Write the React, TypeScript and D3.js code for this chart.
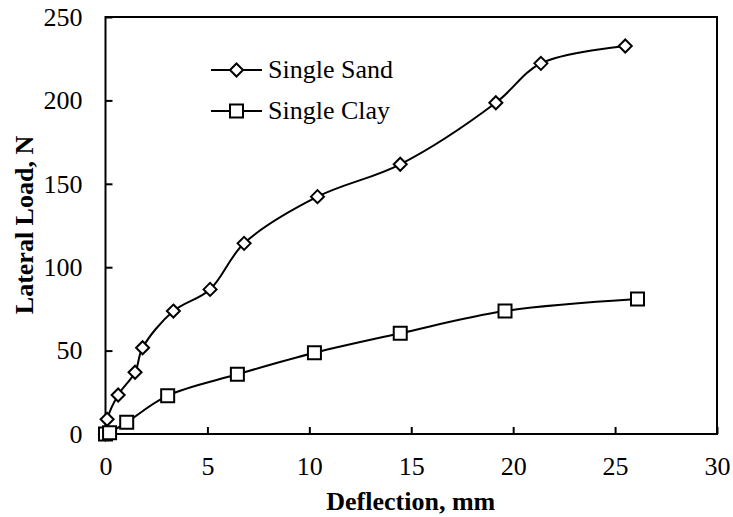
import { useEffect, useRef } from "react";
import * as d3 from "d3";

// Deflection (mm) vs lateral load (N)
const sandX = [0, 0.08, 0.62, 1.45, 1.82, 3.33, 5.13, 6.8, 10.4, 14.46, 19.15, 21.36, 25.5];
const sandY = [0, 8.8, 23.4, 37, 51.7, 73.7, 86.7, 114.3, 142.3, 161.7, 198.6, 222.2, 232.6];
const clayX = [0, 0.2, 1.04, 3.05, 6.47, 10.25, 14.46, 19.6, 26.1];
const clayY = [0, 0.8, 7, 23, 35.8, 48.7, 60.4, 73.7, 80.9];
const seriesNames = ["Single Sand", "Single Clay"];
const xTicks = [0, 5, 10, 15, 20, 25, 30];
const yTicks = [0, 50, 100, 150, 200, 250];

const FONT = "Liberation Serif, Times New Roman, serif";

const diamond = (r: number) => `M0,${-r}L${r},0L0,${r}L${-r},0Z`;
const square = (r: number) => `M${-r},${-r}H${r}V${r}H${-r}Z`;

const App = () => {
    const svgRef = useRef<SVGSVGElement>(null);
    const width = 733;
    const height = 517;

    useEffect(() => {
        const margin = { top: 17, right: 16, bottom: 83, left: 105.5 };
        const innerWidth = width - margin.left - margin.right;
        const innerHeight = height - margin.top - margin.bottom;

        const svg = d3.select(svgRef.current)
            .attr("font-family", FONT);
        svg.selectAll("*").remove();

        const g = svg.append("g")
            .attr("transform", `translate(${margin.left},${margin.top})`);

        const xScale = d3.scaleLinear().domain([0, 30]).range([0, innerWidth]);
        const yScale = d3.scaleLinear().domain([0, 250]).range([innerHeight, 0]);

        // axes: ticks point inward, labels outside
        const xAxis = g.append("g")
            .attr("transform", `translate(0,${innerHeight})`)
            .call(d3.axisBottom(xScale).tickValues(xTicks).tickSizeInner(-7).tickSizeOuter(0).tickPadding(23));
        const yAxis = g.append("g")
            .call(d3.axisLeft(yScale).tickValues(yTicks).tickSizeInner(-7).tickSizeOuter(0).tickPadding(23));

        [xAxis, yAxis].forEach(ax => {
            ax.attr("font-family", FONT).attr("font-size", 26);
            ax.select(".domain").remove();
            ax.selectAll("line").attr("stroke", "#000").attr("stroke-width", 2);
            ax.selectAll("text").attr("fill", "#000");
        });

        // plot frame
        g.append("rect")
            .attr("width", innerWidth)
            .attr("height", innerHeight)
            .attr("fill", "none")
            .attr("stroke", "#000")
            .attr("stroke-width", 2);

        const line = d3.line<[number, number]>()
            .x(d => xScale(d[0]))
            .y(d => yScale(d[1]))
            .curve(d3.curveCatmullRom.alpha(0.5));

        const series = [
            { pts: sandX.map((x, i) => [x, sandY[i]] as [number, number]), marker: diamond(6.5) },
            { pts: clayX.map((x, i) => [x, clayY[i]] as [number, number]), marker: square(6.5) },
        ];

        series.forEach(s => {
            g.append("path")
                .attr("d", line(s.pts))
                .attr("fill", "none")
                .attr("stroke", "#000")
                .attr("stroke-width", 2);
            g.selectAll(null)
                .data(s.pts)
                .enter()
                .append("path")
                .attr("d", s.marker)
                .attr("transform", d => `translate(${xScale(d[0])},${yScale(d[1])})`)
                .attr("fill", "#fff")
                .attr("stroke", "#000")
                .attr("stroke-width", 2);
        });

        // legend
        const legend = svg.append("g").attr("transform", "translate(211,70)");
        series.forEach((s, i) => {
            const row = legend.append("g").attr("transform", `translate(0,${i * 41})`);
            row.append("line")
                .attr("x1", 0).attr("x2", 51)
                .attr("stroke", "#000").attr("stroke-width", 2);
            row.append("path")
                .attr("d", s.marker)
                .attr("transform", "translate(25.5,0)")
                .attr("fill", "#fff")
                .attr("stroke", "#000")
                .attr("stroke-width", 2);
            row.append("text")
                .attr("x", 57)
                .attr("dy", "0.31em")
                .attr("font-size", 26)
                .text(seriesNames[i]);
        });

        // axis titles
        svg.append("text")
            .attr("x", margin.left + innerWidth / 2 - 0.5)
            .attr("y", 510)
            .attr("text-anchor", "middle")
            .attr("font-size", 26)
            .attr("font-weight", "bold")
            .text("Deflection, mm");

        svg.append("text")
            .attr("transform", "translate(33,225) rotate(-90)")
            .attr("text-anchor", "middle")
            .attr("font-size", 26)
            .attr("font-weight", "bold")
            .text("Lateral Load, N");
    }, [height, width]);

    return (
        <svg
            ref={svgRef}
            width={width}
            height={height}
            style={{ position: "absolute", left: 0, top: 0, background: "#fff" }}
        ></svg>
    );
};

export default App;
